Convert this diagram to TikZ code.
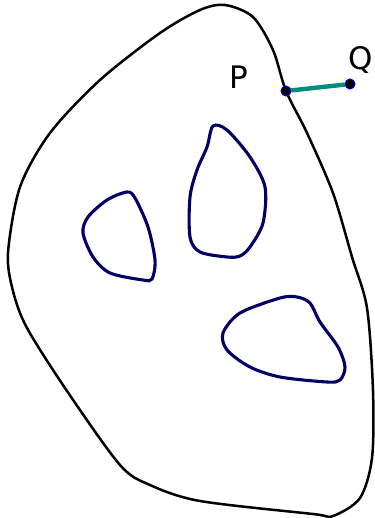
\documentclass[tikz,border=0pt]{standalone}
\usepackage{fontspec}
\setmainfont{DejaVu Sans}
\tikzset{
  hole/.style={draw={rgb,255:red,0;green,0;blue,102},line width=3.1pt},
  pt/.style={circle,fill=black,draw=blue,line width=0.7pt,inner sep=0pt,minimum size=10pt},
}
\definecolor{seg}{RGB}{0,140,125}
\begin{document}
\begin{tikzpicture}[x=1pt,y=-1pt,smooth,font=\fontsize{31}{36}\selectfont]
	\useasboundingbox (0,0) rectangle (374,518);
	% outer boundary
	\draw[line width=2.5pt] plot[smooth cycle] coordinates {(225,5) (253,17) (273,50) (286,91) (307,133) (333,193) (352,257) (367,308) (373,391) (372,458) (360,498) (333,516) (313,514) (200,501) (150,485) (120,465) (67,391) (27,328) (13,291) (8,253) (20,187) (50,133) (100,80) (160,33) (200,10)};
	% holes
	\draw[hole] plot[smooth cycle] coordinates {(127,192) (135,198) (148,227) (155,260) (152,279) (143,280) (110,273) (93,257) (83,233) (88,217) (107,200)};
	\draw[hole] plot[smooth cycle] coordinates {(213,126) (227,130) (250,157) (265,187) (263,223) (250,247) (240,256) (227,257) (200,252) (190,237) (190,197) (197,170) (207,147)};
	\draw[hole] plot[smooth cycle] coordinates {(297,297) (310,303) (320,322) (338,347) (345,367) (340,380) (327,382) (280,377) (250,367) (227,350) (223,333) (240,313) (280,298)};
	% segment PQ
	\node[pt] (P) at (286,91) {};
	\node[pt] (Q) at (350,84) {};
	\draw[seg,line width=4.4pt] (P) -- (Q);
	\node[pt] at (P) {};
	\node[pt] at (Q) {};
	\node (lP) at (239,77) {P};
	\node (lQ) at (361,60) {Q};
\end{tikzpicture}
\end{document}
